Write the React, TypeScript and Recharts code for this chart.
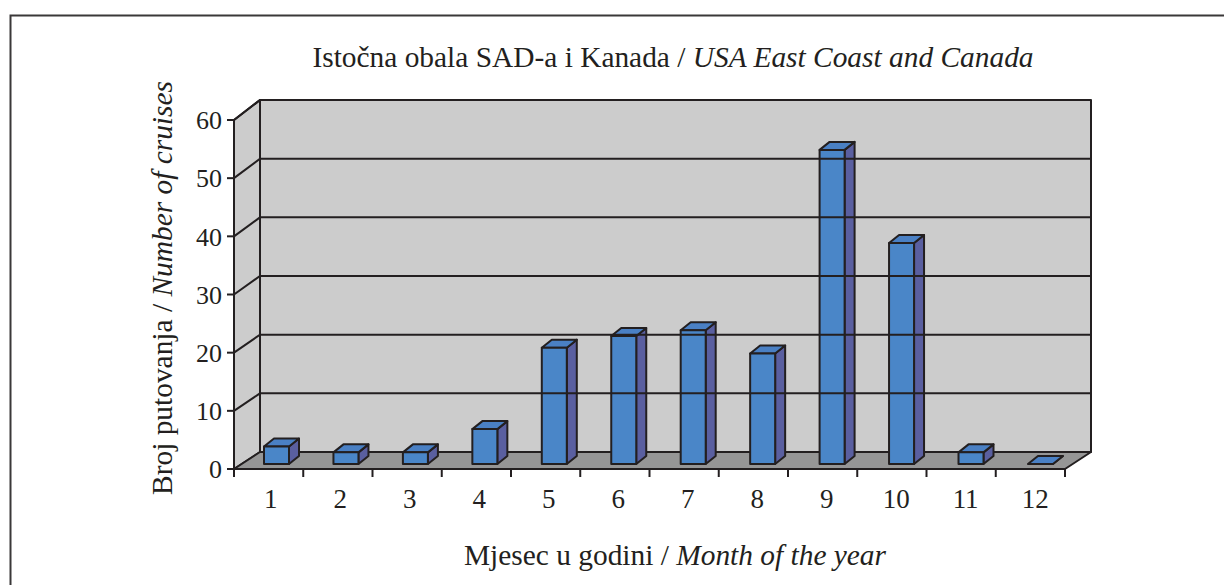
import { BarChart, Bar, ReferenceArea, ReferenceLine, XAxis, YAxis } from "recharts";

const months = ["1", "2", "3", "4", "5", "6", "7", "8", "9", "10", "11", "12"];
const cruises = [3, 2, 2, 6, 20, 22, 23, 19, 54, 38, 2, 0];
const yTicks = [0, 10, 20, 30, 40, 50, 60];

const data = months.map((month, i) => ({ month, cruises: cruises[i] }));

const INK = "#231f20";
const SERIF = "'Liberation Serif', serif";
const CHART_W = 1224;
const CHART_H = 585;
const X_AXIS_H = 30;
const margin = { top: 120, right: 159, bottom: 116 - X_AXIS_H, left: 174 };
const plotW = CHART_W - margin.left - margin.right - 60;
const plotBottom = CHART_H - 116;
const plotH = plotBottom - margin.top;

// how far the back wall is pushed away from the front axes
const WALL_DX = 26;
const wallY = (y: number) => y - 17 - (3 * (plotBottom - y)) / plotH;

const Backdrop = ({ x, y, width, height }: any) => {
  const bottom = y + height;
  const right = x + width;
  const bx = x + WALL_DX;
  return (
    <g stroke={INK} strokeWidth={2} strokeLinejoin="round">
      <rect x={bx} y={wallY(y)} width={width} height={wallY(bottom) - wallY(y)} fill="#cccccc" />
      <polygon points={`${x},${y} ${bx},${wallY(y)} ${bx},${wallY(bottom)} ${x},${bottom}`} fill="#cccccc" />
      <polygon
        points={`${x},${bottom} ${right},${bottom} ${right + WALL_DX},${wallY(bottom)} ${bx},${wallY(bottom)}`}
        fill="#969696"
      />
    </g>
  );
};

const WallLine = ({ x1, x2, y1 }: any) => (
  <polyline
    points={`${x1},${y1} ${x1 + WALL_DX},${wallY(y1)} ${x2 + WALL_DX},${wallY(y1)}`}
    stroke={INK}
    strokeWidth={2}
    fill="none"
  />
);

// bars stand in the middle of the floor, so the faces are shifted off the axis
const Bar3D = ({ x, y, width, height, index }: any) => {
  const l = x + 8 + index * 0.2;
  const r = l + width;
  const t = y - 5;
  const b = t + height;
  const dx = 10;
  const dy = 8;
  return (
    <g stroke={INK} strokeWidth={2} strokeLinejoin="round">
      <polygon points={`${r},${t} ${r + dx},${t - dy} ${r + dx},${b - dy} ${r},${b}`} fill="#5a5fa0" />
      <polygon points={`${l},${t} ${l + dx},${t - dy} ${r + dx},${t - dy} ${r},${t}`} fill="#4a80c4" />
      <rect x={l} y={t} width={width} height={height} fill="#4a86c8" />
    </g>
  );
};

const MonthTick = ({ x, payload, index }: any) => {
  const band = plotW / months.length;
  const left = x - band / 2;
  const right = x + band / 2;
  const top = plotBottom;
  return (
    <g>
      <line x1={left} x2={left} y1={top} y2={top + 8} stroke={INK} strokeWidth={2} />
      {index === months.length - 1 && (
        <line x1={right} x2={right} y1={top} y2={top + 8} stroke={INK} strokeWidth={2} />
      )}
      <text x={x + 2 + index * 0.25} y={508} textAnchor="middle" fontFamily={SERIF} fontSize={27} fill={INK}>
        {payload.value}
      </text>
    </g>
  );
};

export default function App() {
  return (
    <div style={{ position: "absolute", left: 0, top: 0, width: CHART_W, height: CHART_H, background: "#fff" }}>
      <svg width={CHART_W} height={CHART_H} style={{ position: "absolute", left: 0, top: 0 }}>
        <polyline points={`${CHART_W},15.5 10.5,15.5 10.5,${CHART_H}`} fill="none" stroke="#3a3839" strokeWidth={2} />
      </svg>
      <div style={{ position: "absolute", left: 0, top: 0 }}>
        <BarChart width={CHART_W} height={CHART_H} data={data} margin={margin} barSize={25}>
          <ReferenceArea y1={0} y2={60} shape={Backdrop} ifOverflow="visible" />
          {yTicks.slice(1).map((t) => (
            <ReferenceLine key={t} y={t} shape={WallLine} ifOverflow="visible" />
          ))}
          <XAxis
            dataKey="month"
            height={X_AXIS_H}
            axisLine={{ stroke: INK, strokeWidth: 2 }}
            tickLine={false}
            tick={MonthTick}
            interval={0}
          />
          <YAxis
            width={60}
            domain={[0, 60]}
            ticks={yTicks}
            axisLine={{ stroke: INK, strokeWidth: 2 }}
            tickLine={{ stroke: INK, strokeWidth: 2 }}
            tickSize={7}
            tickMargin={5}
            tick={{ fontFamily: SERIF, fontSize: 26, fill: INK }}
          />
          <Bar dataKey="cruises" shape={Bar3D} isAnimationActive={false} />
          <text x={673} y={67} textAnchor="middle" fontFamily={SERIF} fontSize={29.4} fill={INK}>
            Istočna obala SAD-a i Kanada / <tspan fontStyle="italic">USA East Coast and Canada</tspan>
          </text>
          <text
            x={172}
            y={288}
            textAnchor="middle"
            transform="rotate(-90 172 288)"
            fontFamily={SERIF}
            fontSize={29.4}
            fill={INK}
          >
            Broj putovanja / <tspan fontStyle="italic">Number of cruises</tspan>
          </text>
          <text x={675} y={565} textAnchor="middle" fontFamily={SERIF} fontSize={29.4} fill={INK}>
            Mjesec u godini / <tspan fontStyle="italic">Month of the year</tspan>
          </text>
        </BarChart>
      </div>
    </div>
  );
}
